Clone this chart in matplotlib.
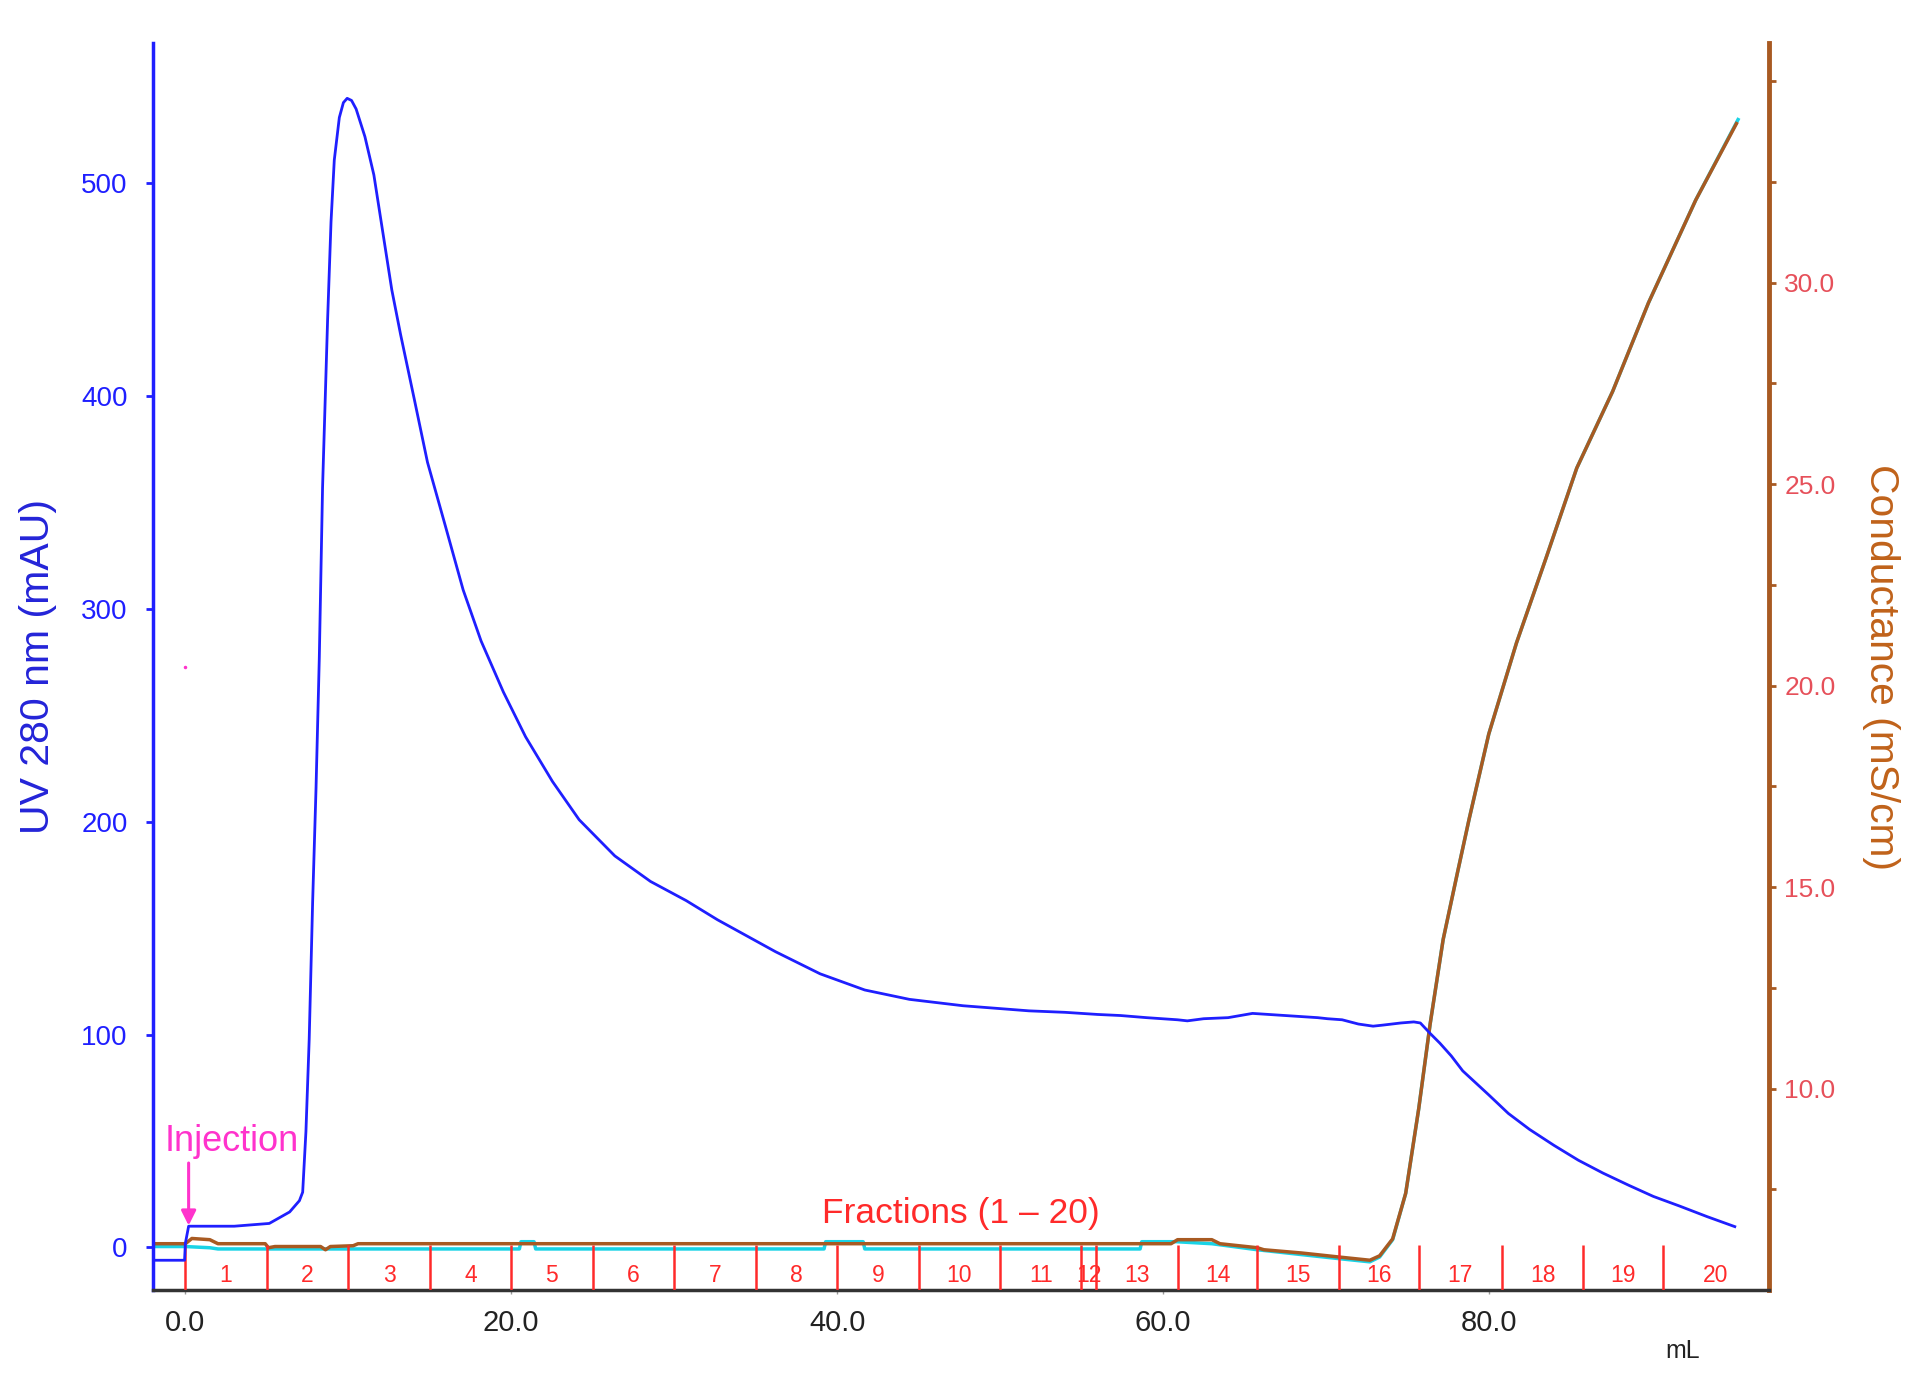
import matplotlib
matplotlib.use("Agg")
import matplotlib.pyplot as plt
import matplotlib.transforms as mtransforms

plt.rcParams['font.family'] = ['Liberation Sans', 'DejaVu Sans']

# UV 280 nm trace (mL, mAU)
uv_ml = [-2.0, -0.05, 0.0, 0.2, 3.0, 5.15, 6.4, 7.0, 7.2, 7.4, 7.6, 7.81, 8.02,
         8.22, 8.42, 8.73, 8.94, 9.14, 9.45, 9.7, 9.93, 10.2, 10.48, 11.02,
         11.57, 12.12, 12.67, 13.21, 14.04, 14.86, 15.96, 17.05, 18.15, 19.52,
         20.88, 22.53, 24.17, 26.36, 28.55, 30.74, 32.66, 36.22, 38.96, 41.7,
         44.44, 47.73, 51.78, 54.0, 56.0, 57.4, 59.0, 60.9, 61.5, 62.5, 64.0,
         65.5, 67.5, 68.5, 69.5, 70.1, 71.0, 72.0, 72.9, 73.5, 74.6, 75.4, 75.8,
         76.4, 77.0, 77.7, 78.4, 80.0, 81.2, 82.5, 84.0, 85.5, 87.0, 88.6, 90.1,
         91.7, 93.4, 95.1]
uv_mau = [-6, -6, 2, 10, 10, 11.3, 16.7, 22, 26, 54.5, 97.8, 162, 216,
          277, 357, 436, 482, 511, 531, 538, 540, 539, 535, 522,
          504, 477, 450, 429, 399, 369, 339, 309, 285, 261,
          240, 219, 201, 184, 172, 163, 154, 139, 128.6, 121,
          116.6, 113.6, 111.2, 110.5, 109.5, 109, 108, 107, 106.5, 107.5, 108,
          110, 109, 108.5, 108, 107.5, 107, 105, 104, 104.5, 105.5, 106, 105.5,
          100.6, 96, 90, 83, 71.7, 63, 55.5, 48, 41, 35, 29.2, 24,
          19.5, 14.5, 9.8]

# conductance trace (mL, mS/cm)
cond_ml = [-2, 0, 0.4, 1.5, 2.0, 4.9, 5.1, 5.5, 8.3, 8.6, 8.9, 10.3, 10.6, 60.5,
           60.9, 63.0, 63.5, 65.8, 66.2, 68.5, 70.8, 72.7, 73.3, 74.1, 74.9, 75.7,
           76.4, 77.2, 78.1, 78.8, 80.0, 81.7, 83.5, 85.4, 87.6, 89.8, 92.7, 95.2]
cond_ms = [6.15, 6.15, 6.28, 6.25, 6.15, 6.15, 6.05, 6.08, 6.08, 6.0, 6.08, 6.1,
           6.15, 6.15, 6.25, 6.25, 6.15, 6.05, 6.0, 5.92, 5.82, 5.74, 5.85, 6.27,
           7.4, 9.5, 11.6, 13.7, 15.4, 16.7, 18.8, 21.06, 23.15, 25.4, 27.3, 29.5,
           32.05, 33.95]

# second trace drawn under the conductance (cyan)
cyan_ml = [-2, 0, 1.5, 2.0, 20.5, 20.6, 21.4, 21.5, 39.2, 39.3, 41.6, 41.7,
           58.6, 58.7, 60.8, 63.0, 65.8, 68.5, 70.8, 72.7, 73.3, 74.1, 74.9,
           75.7, 76.4, 77.2, 78.1, 78.8, 80.0, 81.7, 83.5, 85.4, 87.6, 89.8,
           92.7, 95.3]
cyan_ms = [6.08, 6.08, 6.05, 6.02, 6.02, 6.2, 6.2, 6.02, 6.02, 6.2, 6.2, 6.02,
           6.02, 6.2, 6.2, 6.15, 6.0, 5.88, 5.78, 5.7, 5.82, 6.25,
           7.4, 9.5, 11.6, 13.7, 15.4, 16.7, 18.8, 21.06, 23.15, 25.4, 27.3, 29.5,
           32.05, 34.05]

# fraction boundaries (mL) and labels
frac_edges = [0, 5, 10, 15, 20, 25, 30, 35, 40, 45, 50, 55, 55.9, 60.9, 65.8,
              70.8, 75.7, 80.8, 85.8, 90.7, 97.2]
frac_labels = [str(i) for i in range(1, 21)]

x_ticks = [0, 20, 40, 60, 80]
uv_ticks = [0, 100, 200, 300, 400, 500]
cond_ticks = [10, 15, 20, 25, 30]
cond_minor = [7.5, 12.5, 17.5, 22.5, 27.5, 32.5, 35]

blue = '#1f1fff'
brown = '#a85a22'
red = '#ff2a2a'
magenta = '#ff33cc'
cyan = '#19d3e6'

fig = plt.figure(figsize=(19.17, 13.74), dpi=100)
ax = fig.add_axes([0.0797, 0.0611, 0.8431, 0.9076])
ax2 = ax.twinx()

ax2.plot(cyan_ml, cyan_ms, color=cyan, lw=2.5, zorder=2)
ax2.plot(cond_ml, cond_ms, color=brown, lw=2.5, zorder=3)
ax.plot(uv_ml, uv_mau, color=blue, lw=2.0, zorder=4)

ax.set_zorder(ax2.get_zorder() + 1)
ax.patch.set_visible(False)

ax.set_xlim(-2, 97.2)
ax.set_ylim(-20, 566)
ax2.set_ylim(5.0, 35.95)

# fractions
ax.vlines(frac_edges[:-1], -20, 1, color=red, lw=1.8, zorder=3)
for i, lab in enumerate(frac_labels):
    xc = (frac_edges[i] + frac_edges[i + 1]) / 2
    ax.text(xc, -13, lab, color=red, fontsize=16.5, ha='center', va='center')
ax.text(47.6, 16, 'Fractions (1 \u2013 20)', color=red, fontsize=25.5,
        ha='center', va='center')

# injection mark
ax.annotate('', xy=(0.2, 9), xytext=(0.2, 41),
            arrowprops=dict(arrowstyle='-|>', color=magenta, lw=2.2,
                            mutation_scale=22))
ax.text(2.85, 50, 'Injection', color=magenta, fontsize=26, ha='center', va='center')
ax.plot([0], [273], marker='.', ms=3, color=magenta)

# spines
ax.spines['top'].set_visible(False)
ax2.spines['top'].set_visible(False)
ax.spines['right'].set_visible(False)
ax2.spines['left'].set_visible(False)
ax2.spines['bottom'].set_visible(False)
ax.spines['left'].set_color(blue)
ax.spines['left'].set_linewidth(2.5)
ax2.spines['right'].set_color(brown)
ax2.spines['right'].set_linewidth(3.5)
ax.spines['bottom'].set_color('#333333')
ax.spines['bottom'].set_linewidth(2.5)

ax.set_xticks(x_ticks)
ax.set_xticklabels(['%.1f' % v for v in x_ticks])
ax.tick_params(axis='x', colors='#999999', length=3, width=1, labelsize=21,
               labelcolor='#222222', pad=11)

ax.set_yticks(uv_ticks)
ax.tick_params(axis='y', colors=blue, length=5, width=2, labelsize=20,
               labelcolor=blue, pad=13)
ax.set_ylabel('UV 280 nm (mAU)', color='#2424d8', fontsize=29.5)
ax.yaxis.set_label_coords(-0.059, 0.5)

ax2.set_yticks(cond_ticks)
ax2.set_yticklabels(['%.1f' % v for v in cond_ticks])
ax2.set_yticks(cond_minor, minor=True)
ax2.tick_params(axis='y', which='major', colors=brown, length=5, width=2,
                labelsize=19, labelcolor='#e6505a', pad=6)
ax2.tick_params(axis='y', which='minor', colors=brown, length=5, width=2)
ax2.set_ylabel('Conductance (mS/cm)', color='#c0621a', fontsize=29.3,
               rotation=270, va='bottom')
ax2.yaxis.set_label_coords(1.0575, 0.5)

trans = mtransforms.blended_transform_factory(ax.transData, ax.transAxes)
ax.text(91.9, -0.049, 'mL', transform=trans, fontsize=18, color='#222222',
        ha='center', va='center')

fig.savefig('out.png', dpi=100)
